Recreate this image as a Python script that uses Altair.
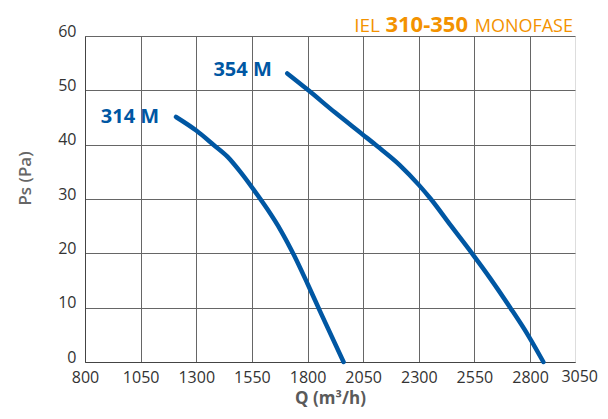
import altair as alt
import pandas as pd

# Curve data
q_314 = [1209, 1300, 1377, 1440, 1500, 1560, 1620, 1680, 1740, 1800, 1860, 1962]
ps_314 = [45.1, 42.6, 40.0, 37.8, 34.9, 31.6, 28.1, 24.2, 19.6, 14.4, 9.0, 0.0]
q_354 = [1709, 1804, 1924, 2050, 2111, 2213, 2300, 2354, 2446, 2539, 2621, 2711, 2790, 2860]
ps_354 = [53.1, 50.0, 45.9, 41.8, 39.8, 36.3, 32.6, 30.0, 25.0, 20.0, 15.4, 10.0, 5.0, 0.0]

series_names = ["314 M", "354 M"]
label_q = [1002, 1508]
label_ps = [45.1, 53.7]

x_ticks = [800, 1050, 1300, 1550, 1800, 2050, 2300, 2550, 2800]
x_last_tick = 3050
y_ticks = [0, 10, 20, 30, 40, 50, 60]

BLUE = "#0057a3"
ORANGE = "#f39200"
FONT = "Open Sans"

rows = []
for q, p in zip(q_314, ps_314):
    rows.append({"Q": q, "Ps": p, "serie": "314 M"})
for q, p in zip(q_354, ps_354):
    rows.append({"Q": q, "Ps": p, "serie": "354 M"})
curves = pd.DataFrame(rows)

labels = pd.DataFrame({"Q": label_q, "Ps": label_ps, "name": series_names})
extra = pd.DataFrame({"Q": [x_last_tick], "Ps": [0], "t": [str(x_last_tick)]})

xscale = alt.Scale(domain=[800, 3002], nice=False, zero=False)
yscale = alt.Scale(domain=[0, 60], nice=False)

lines = alt.Chart(curves).mark_line(
    color=BLUE, strokeWidth=4.5, strokeCap="round", interpolate="monotone"
).encode(
    x=alt.X("Q:Q", scale=xscale, axis=alt.Axis(
        values=x_ticks, format="d", title="Q (m³/h)", grid=True, ticks=False, tickSize=0,
        labelFont=FONT, labelFontSize=16, labelColor="#333333", labelPadding=7,
        titleFont=FONT, titleFontSize=17, titleFontWeight="bold", titleColor="#5a5a5a",
        titlePadding=5, domainColor="#444444", gridColor="#666666", labelFlush=False)),
    y=alt.Y("Ps:Q", scale=yscale, axis=alt.Axis(
        values=y_ticks, format="d", title="Ps (Pa)", grid=True, ticks=False, tickSize=0,
        labelFont=FONT, labelFontSize=16, labelColor="#333333", labelPadding=9,
        labelOffset=-5,
        titleFont=FONT, titleFontSize=17, titleFontWeight=600, titleColor="#666666",
        titleAngle=270, titleBaseline="middle",
        titleX=-60, titleY=142, domainColor="#444444", gridColor="#666666",
        labelFlush=False)),
    detail="serie:N",
)

names = alt.Chart(labels).mark_text(
    font=FONT, fontSize=20, fontWeight="bold", color=BLUE, align="center", baseline="middle"
).encode(x=alt.X("Q:Q", scale=xscale), y=alt.Y("Ps:Q", scale=yscale), text="name:N")

last_label = alt.Chart(extra).mark_text(
    font=FONT, fontSize=16, color="#333333", align="center", baseline="top", dx=-6, dy=7
).encode(x=alt.X("Q:Q", scale=xscale), y=alt.Y("Ps:Q", scale=yscale), text="t:N")

t1 = alt.Chart(pd.DataFrame({"t": ["IEL"]})).mark_text(
    font=FONT, fontSize=19, color=ORANGE, align="right", baseline="alphabetic"
).encode(x=alt.value(295), y=alt.value(-4), text="t:N")
t2 = alt.Chart(pd.DataFrame({"t": ["310-350"]})).mark_text(
    font=FONT, fontSize=22, fontWeight="bold", color=ORANGE, align="right", baseline="alphabetic"
).encode(x=alt.value(383), y=alt.value(-4), text="t:N")
t3 = alt.Chart(pd.DataFrame({"t": ["MONOFASE"]})).mark_text(
    font=FONT, fontSize=18, color=ORANGE, align="right", baseline="alphabetic"
).encode(x=alt.value(488), y=alt.value(-4), text="t:N")

chart = alt.layer(lines, names, last_label, t1, t2, t3).properties(
    width=490, height=326,
    autosize=alt.AutoSizeParams(type="none"),
    padding={"left": 77, "top": 28, "right": 25, "bottom": 55},
).configure_view(stroke="#999999", strokeWidth=1).configure(background="white")

chart.save("out.html", embed_options={"renderer": "svg", "actions": False})
